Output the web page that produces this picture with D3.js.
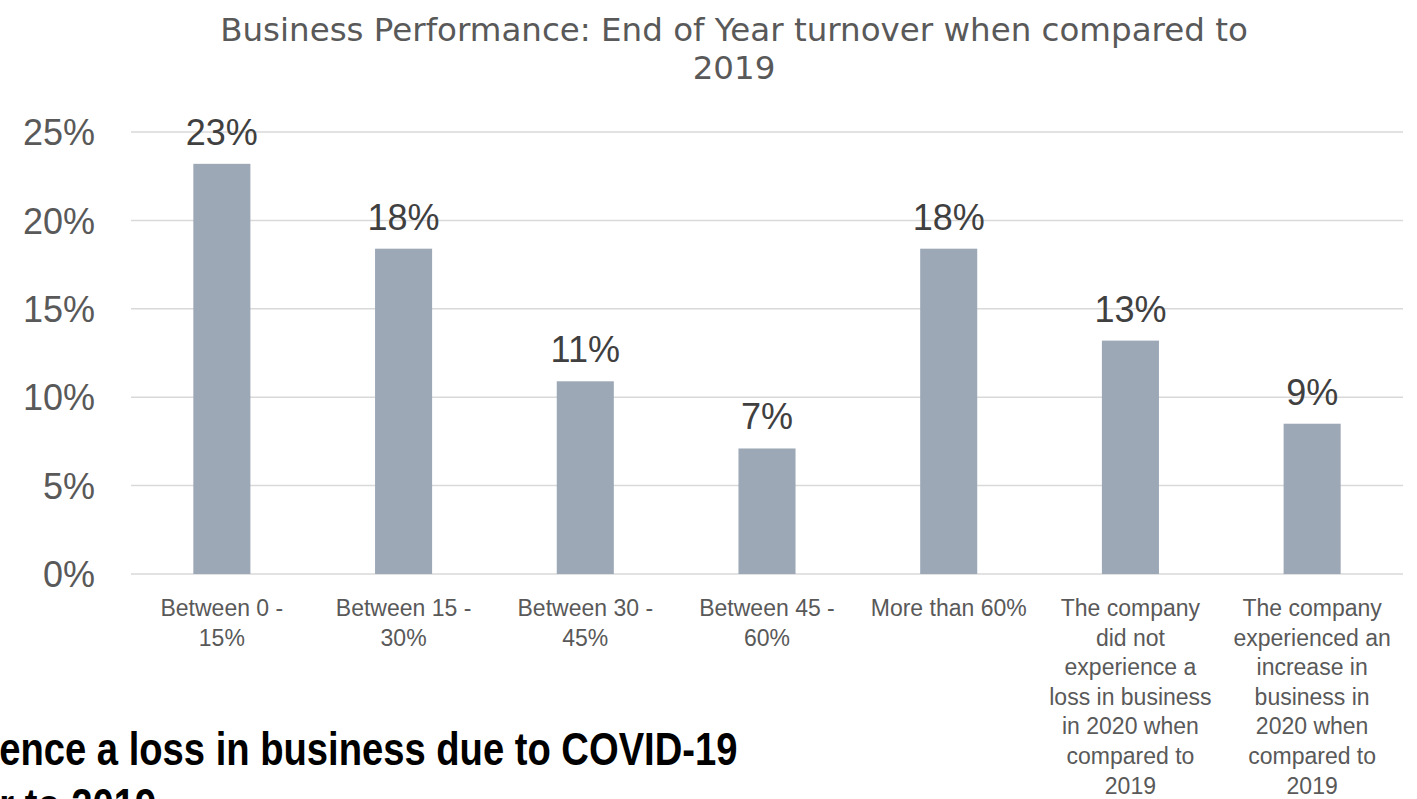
<!DOCTYPE html>
<html>
<head>
<meta charset="utf-8">
<script src="https://cdn.jsdelivr.net/npm/d3@7"></script>
<style>
  html, body { margin: 0; padding: 0; background: #fff; overflow: hidden; }
  svg { display: block; }
</style>
</head>
<body>
<svg id="chart" width="1417" height="799"></svg>
<script>
// ---- data ----
const categories = [
  ["Between 0 -", "15%"],
  ["Between 15 -", "30%"],
  ["Between 30 -", "45%"],
  ["Between 45 -", "60%"],
  ["More than 60%"],
  ["The company", "did not", "experience a", "loss in business", "in 2020 when", "compared to", "2019"],
  ["The company", "experienced an", "increase in", "business in", "2020 when", "compared to", "2019"]
];
const values = [23.2, 18.4, 10.9, 7.1, 18.4, 13.2, 8.5];
const valueLabels = ["23%", "18%", "11%", "7%", "18%", "13%", "9%"];
const yTicks = [0, 5, 10, 15, 20, 25];
const titleLines = ["Business Performance: End of Year turnover when compared to", "2019"];
const backgroundLines = ["ence a loss in business due to COVID-19", "r to 2019"];

// ---- layout ----
const svg = d3.select("#chart");
const font = "'Liberation Sans', Arial, sans-serif";
const titleFont = "'DejaVu Sans', 'Liberation Sans', sans-serif";
const plotLeft = 131, plotRight = 1403, plotTop = 132, plotBottom = 574;

const x = d3.scaleBand()
  .domain(d3.range(categories.length))
  .range([plotLeft, plotRight])
  .paddingInner(0.686)
  .paddingOuter(0.343);

const y = d3.scaleLinear().domain([0, 25]).range([plotBottom, plotTop]);

// background slide text (bold black, condensed, partly cut off)
svg.append("g")
  .attr("transform", "scale(0.83,1)")
  .selectAll("text")
  .data(backgroundLines)
  .join("text")
  .attr("x", -1)
  .attr("y", (d, i) => 765 + i * 56)
  .attr("font-family", font)
  .attr("font-weight", "bold")
  .attr("font-size", 46)
  .attr("fill", "#000")
  .text(d => d);

// gridlines
svg.append("g").selectAll("line")
  .data(yTicks)
  .join("line")
  .attr("x1", plotLeft).attr("x2", plotRight)
  .attr("y1", d => y(d)).attr("y2", d => y(d))
  .attr("stroke", "#d9d9d9")
  .attr("stroke-width", 1.5);

// y axis labels
const yAxis = d3.axisLeft(y).tickValues(yTicks).tickFormat(d => d + "%").tickSize(0).tickPadding(0);
const gy = svg.append("g").attr("transform", `translate(95,0)`).call(yAxis);
gy.select(".domain").remove();
gy.selectAll("text")
  .attr("font-family", font)
  .attr("font-size", 36)
  .attr("fill", "#595959")
  .attr("dy", "0.35em");

// bars
svg.append("g").selectAll("rect")
  .data(values)
  .join("rect")
  .attr("x", (d, i) => x(i))
  .attr("width", x.bandwidth())
  .attr("y", d => y(d))
  .attr("height", d => y(0) - y(d))
  .attr("fill", "#9da8b7");

// value labels
svg.append("g").selectAll("text")
  .data(values)
  .join("text")
  .attr("x", (d, i) => x(i) + x.bandwidth() / 2)
  .attr("y", d => y(d) - 19)
  .attr("text-anchor", "middle")
  .attr("font-family", font)
  .attr("font-size", 36)
  .attr("fill", "#404040")
  .text((d, i) => valueLabels[i]);

// category labels
const cat = svg.append("g").selectAll("text")
  .data(categories)
  .join("text")
  .attr("text-anchor", "middle")
  .attr("font-family", font)
  .attr("font-size", 23)
  .attr("fill", "#595959");
cat.selectAll("tspan")
  .data((d, i) => d.map(line => ({line, i})))
  .join("tspan")
  .attr("x", d => x(d.i) + x.bandwidth() / 2)
  .attr("y", (d, j) => 616 + j * 29.6)
  .text(d => d.line);

// title
svg.append("g").selectAll("text")
  .data(titleLines)
  .join("text")
  .attr("x", 734)
  .attr("y", (d, i) => 41 + i * 38)
  .attr("text-anchor", "middle")
  .attr("font-family", titleFont)
  .attr("font-size", 32.5)
  .attr("fill", "#595959")
  .text(d => d);
</script>
</body>
</html>
